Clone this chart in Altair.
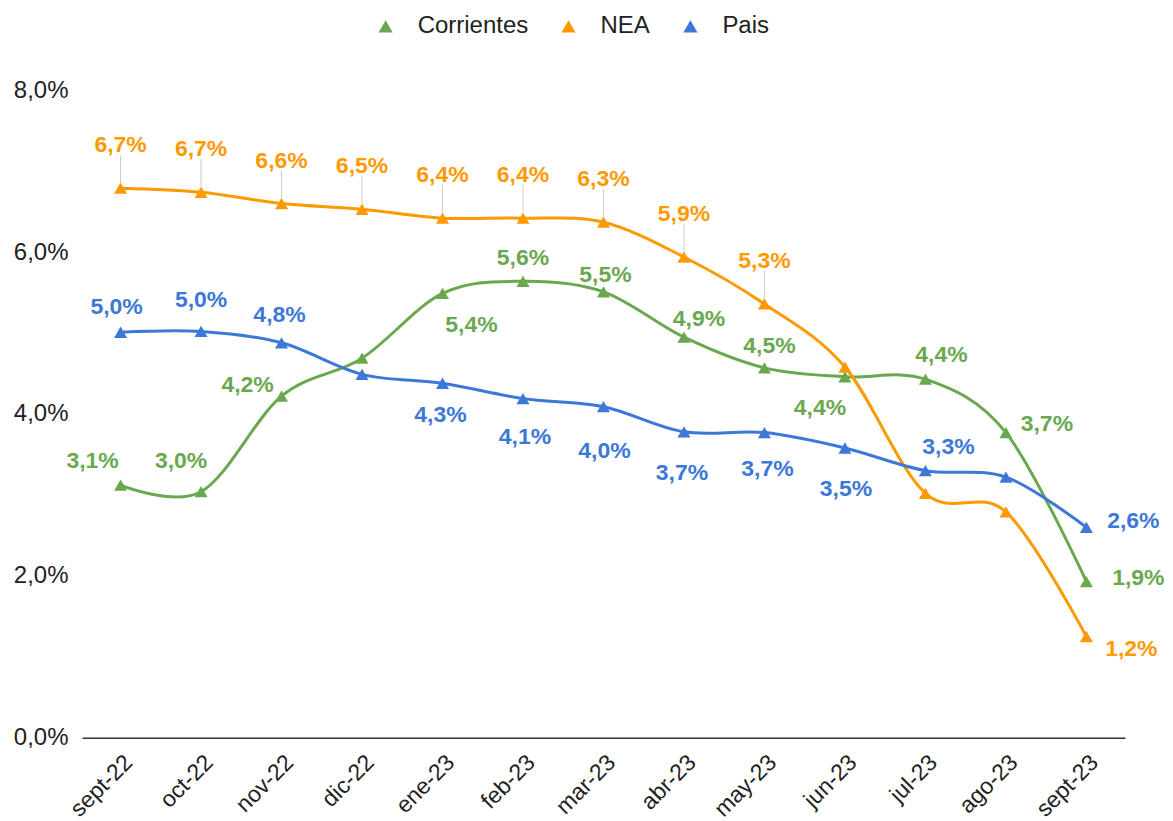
import altair as alt
import pandas as pd

# ---- data ----
months = ["sept-22", "oct-22", "nov-22", "dic-22", "ene-23", "feb-23", "mar-23",
          "abr-23", "may-23", "jun-23", "jul-23", "ago-23", "sept-23"]
series_names = ["Corrientes", "NEA", "Pais"]
corrientes = [3.12, 3.04, 4.22, 4.69, 5.49, 5.64, 5.51, 4.95, 4.57, 4.46, 4.43, 3.77, 1.93]
nea = [6.79, 6.74, 6.60, 6.53, 6.42, 6.42, 6.37, 5.94, 5.36, 4.58, 3.02, 2.79, 1.25]
pais = [5.01, 5.02, 4.88, 4.49, 4.38, 4.19, 4.09, 3.78, 3.77, 3.58, 3.30, 3.22, 2.60]
y_ticks = [0, 2, 4, 6, 8]

# ---- styling ----
colors = ["#6aa84f", "#ff9900", "#3c78d8"]
FONT = "Liberation Sans"

# pixel offset of each value label from its marker (None = no label shown)
corr_lbl = [(-28, -24), (-20, -31), (-34, -11), None, (29, 32), (0, -23), (2, -17),
            (15, -18), (5, -22), (-25, 31), (16, -24), (41, -9), (52, -4)]
nea_lbl = [(0, -43)] * 9 + [None, None, None, (45, 12)]
pais_lbl = [(-4, -25), (0, -31), (-2, -28), None, (-2, 32), (2, 38), (1, 44),
            (-2, 41), (3, 36), (1, 41), (23, -24), None, (47, -6)]

rows = []
for name, vals, offs in zip(series_names, [corrientes, nea, pais], [corr_lbl, nea_lbl, pais_lbl]):
    for m, v, o in zip(months, vals, offs):
        rows.append({
            "mes": m, "serie": name, "valor": v,
            "show": o is not None,
            "dx": o[0] if o else 0, "dy": o[1] if o else 0,
        })
df = pd.DataFrame(rows)

x_enc = alt.X(
    "mes:N", sort=months,
    scale=alt.Scale(type="point", padding=0.48),
    axis=alt.Axis(title=None, labelAngle=-45, labelFontSize=23, labelFont=FONT,
                  labelColor="#222222", domainColor="#333333", domainWidth=1.5,
                  ticks=False, grid=False, labelPadding=13),
)
y_enc = alt.Y(
    "valor:Q",
    scale=alt.Scale(domain=[0, 8], nice=False, zero=True),
    axis=alt.Axis(title=None, values=y_ticks, domain=False, ticks=False, grid=False,
                  labelFontSize=24, labelFont=FONT, labelColor="#222222", labelPadding=14,
                  labelExpr="replace(format(datum.value, '.1f'), '.', ',') + '%'"),
)
color_scale = alt.Scale(domain=series_names, range=colors)
legend = alt.Legend(orient="none", legendX=292, legendY=-76, direction="horizontal",
                    title=None, symbolType="triangle-up", symbolSize=200,
                    symbolFillColor=None, symbolStrokeWidth=0, symbolOpacity=1,
                    labelFontSize=24, labelFont=FONT, labelColor="#222222",
                    labelOffset=20, columnPadding=28)
color_enc = alt.Color("serie:N", scale=color_scale, legend=legend)

base = alt.Chart(df)

lines = base.mark_line(interpolate="cardinal", strokeWidth=3).encode(
    x=x_enc, y=y_enc, color=color_enc,
)

points = base.mark_point(shape="triangle-up", filled=True, size=170, opacity=1).encode(
    x=x_enc, y=y_enc, color=color_enc,
)

leaders = base.transform_filter("datum.show && datum.dy < -35").mark_rule(
    color="#cccccc", strokeWidth=1, yOffset=-6, y2Offset=-33
).encode(x=x_enc, y=y_enc, y2=alt.Y2("valor:Q"))

labels = base.transform_filter("datum.show").transform_calculate(
    label="replace(format(floor(datum.valor * 10 + 0.000001) / 10, '.1f'), '.', ',') + '%'"
).mark_text(fontSize=23, fontWeight="bold", font=FONT, baseline="middle", align="center",
            dx=alt.ExprRef("datum.dx"), dy=alt.ExprRef("datum.dy")).encode(
    x=x_enc, y=y_enc,
    text="label:N",
    color=color_enc,
)

chart = alt.layer(leaders, lines, points, labels).properties(
    width=1044, height=648,
    padding={"left": 74, "top": 82, "right": 40, "bottom": 83},
    autosize=alt.AutoSizeParams(type="none"),
    background="white",
).configure_view(strokeWidth=0)

chart.save("out.html", embed_options={"renderer": "svg", "actions": False})
